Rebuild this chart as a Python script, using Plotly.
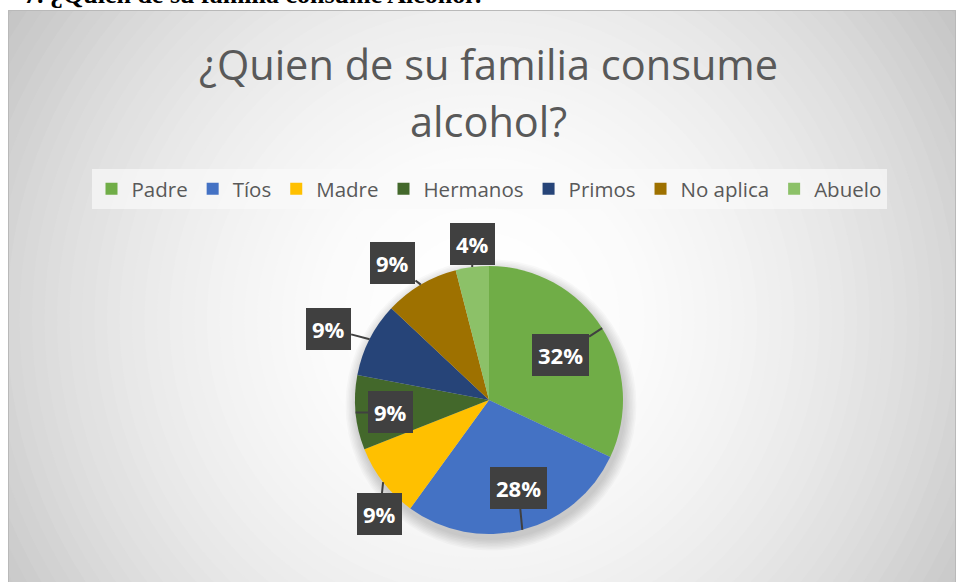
import math
import plotly.graph_objects as go

# ---------------- data ----------------
categories = ["Padre", "Tíos", "Madre", "Hermanos", "Primos", "No aplica", "Abuelo"]
values = [32, 28, 9, 9, 9, 9, 4]
labels_text = ["32%", "28%", "9%", "9%", "9%", "9%", "4%"]
colors = ["#70AD47", "#4472C4", "#FFC000", "#43682B", "#264478", "#9E7100", "#8CC168"]

title_line1 = "¿Quien de su familia consume"
title_line2 = "alcohol?"
heading = "7. ¿Quien de su familia consume Alcohol?"

# label placement style (radial factor, angle tweak in degrees)
label_r = [0.63, 0.69, 1.18, 0.74, 1.31, 1.25, 1.17]
label_dang = [0.4, -4.0, -8.5, -1.6, -3.0, -4.4, 1.2]

W, H = 956, 582

def px_to_paper(x, y):
    return x / W, 1 - y / H

# pie domain (pixels)
pie_cx, pie_cy, pie_R = 489, 400, 134
dom_x = [(pie_cx - pie_R) / W, (pie_cx + pie_R) / W]
dom_y = [1 - (pie_cy + pie_R) / H, 1 - (pie_cy - pie_R) / H]

fig = go.Figure(go.Pie(
    labels=categories,
    values=values,
    marker=dict(colors=colors, line=dict(width=0)),
    sort=False,
    direction="clockwise",
    rotation=0,
    textinfo="none",
    hoverinfo="label+percent",
    domain=dict(x=dom_x, y=dom_y),
))

shapes = []
# radial gradient background (concentric circles)
gcx, gcy = 482, 320
Rmax = 600
N = 48
for i in range(N):
    r = Rmax * (1 - i / N)
    rm = r - Rmax / N / 2
    g = 255 - 59 * min((max(rm, 0) / 566) ** 2, 1.05)
    g = int(round(max(g, 194)))
    x0, y1 = px_to_paper(gcx - r, gcy - r)
    x1, y0 = px_to_paper(gcx + r, gcy + r)
    shapes.append(dict(type="circle", xref="paper", yref="paper", x0=x0, x1=x1, y0=y0, y1=y1,
                       fillcolor=f"rgb({g},{g},{g})", line=dict(width=0), layer="below"))
# pie soft shadow
for k in range(8):
    rr = pie_R + 1 + k * 1.5
    sx, sy = pie_cx + 2, pie_cy + 5
    x0, y1 = px_to_paper(sx - rr, sy - rr)
    x1, y0 = px_to_paper(sx + rr, sy + rr)
    shapes.append(dict(type="circle", xref="paper", yref="paper", x0=x0, x1=x1, y0=y0, y1=y1,
                       fillcolor="rgba(0,0,0,0.022)", line=dict(width=0), layer="below"))
# white margins outside chart area
shapes.append(dict(type="rect", xref="paper", yref="paper", x0=-0.1, x1=1.1, y0=1 - 10 / H, y1=1.2,
                   fillcolor="white", line=dict(width=0), layer="below"))
shapes.append(dict(type="rect", xref="paper", yref="paper", x0=-0.1, x1=8 / W, y0=-0.2, y1=1.2,
                   fillcolor="white", line=dict(width=0), layer="below"))
# chart area border
shapes.append(dict(type="rect", xref="paper", yref="paper", x0=8.5 / W, x1=955.5 / W, y0=-0.05, y1=1 - 10.5 / H,
                   fillcolor="rgba(0,0,0,0)", line=dict(width=1, color="#b9b9b9"), layer="below"))

annotations = []
# document heading (cut off at top)
hx, hy = px_to_paper(22, 10.5)
annotations.append(dict(text=f"<b>{heading}</b>", x=hx, y=hy, xref="paper", yref="paper",
                        xanchor="left", yanchor="bottom", showarrow=False,
                        font=dict(family="Liberation Serif", size=26, color="black")))
# title lines
t1x, t1y = px_to_paper(488, 94)
annotations.append(dict(text=title_line1, x=t1x, y=t1y, xref="paper", yref="paper",
                        xanchor="center", yanchor="bottom", showarrow=False,
                        font=dict(family="Open Sans", size=41.5, color="#595959")))
t2x, t2y = px_to_paper(488, 151)
annotations.append(dict(text=title_line2, x=t2x, y=t2y, xref="paper", yref="paper",
                        xanchor="center", yanchor="bottom", showarrow=False,
                        font=dict(family="Open Sans", size=41.5, color="#595959")))

# data label callouts from the values
total = sum(values)
cum = 0
for v, txt, rf, da in zip(values, labels_text, label_r, label_dang):
    mid = (cum + v / 2) / total * 360
    cum += v
    a = math.radians(mid)
    tipx = pie_cx + pie_R * math.sin(a)
    tipy = pie_cy - pie_R * math.cos(a)
    b = math.radians(mid + da)
    lx = pie_cx + rf * pie_R * math.sin(b)
    ly = pie_cy - rf * pie_R * math.cos(b)
    px, py = px_to_paper(tipx, tipy)
    annotations.append(dict(text=f"<b>{txt}</b>", x=px, y=py, xref="paper", yref="paper",
                            ax=lx - tipx, ay=ly - tipy, axref="pixel", ayref="pixel",
                            showarrow=True, arrowhead=0, arrowwidth=2, arrowcolor="#404040",
                            bgcolor="#404040", borderpad=6, borderwidth=0,
                            font=dict(family="Open Sans", size=22, color="white")))

lx_leg, ly_leg = px_to_paper(489, 189)
fig.update_layout(
    width=W, height=H,
    margin=dict(l=0, r=0, t=0, b=0),
    paper_bgcolor="white",
    plot_bgcolor="rgba(0,0,0,0)",
    shapes=shapes,
    annotations=annotations,
    showlegend=True,
    legend=dict(orientation="h", x=lx_leg, y=ly_leg, xanchor="center", yanchor="middle",
                bgcolor="rgba(250,250,250,0.7)", font=dict(family="Open Sans", size=20.5, color="#595959"),
                traceorder="normal", itemwidth=30),
)

fig.write_html("out.html", config={"displayModeBar": False},
               post_script="document.body.style.margin='0';document.body.style.overflow='hidden';")
